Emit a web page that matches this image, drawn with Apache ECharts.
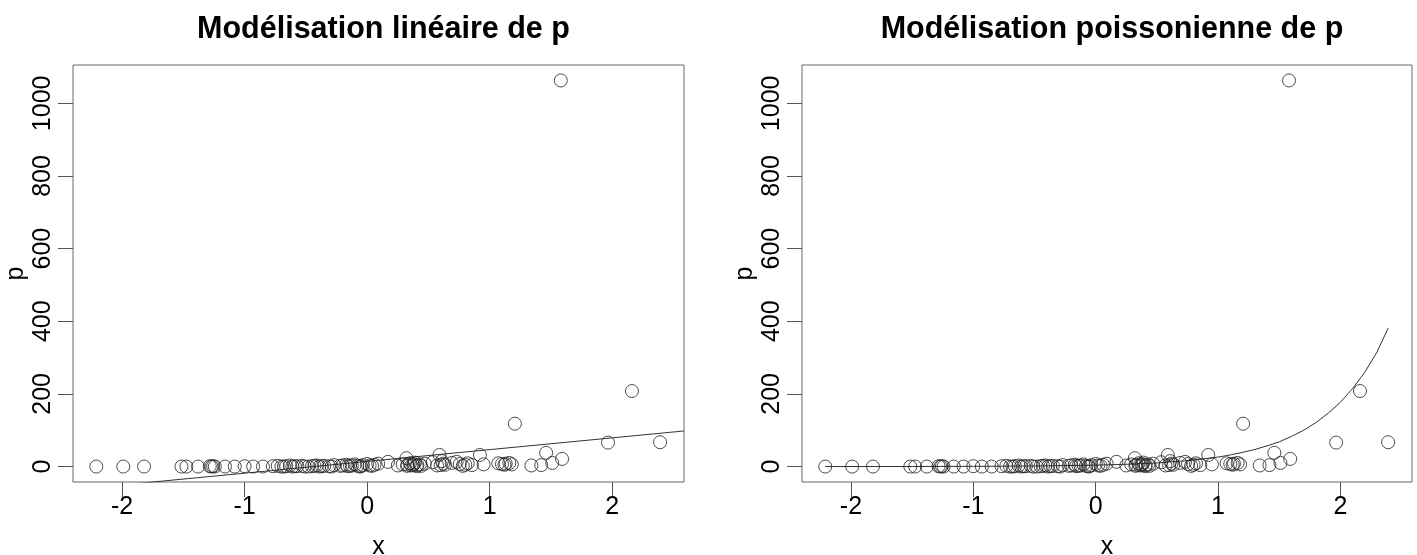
<!DOCTYPE html>
<html>
<head>
<meta charset="utf-8">
<script src="https://cdn.jsdelivr.net/npm/echarts@6/dist/echarts.min.js"></script>
<style>
  html, body { margin: 0; padding: 0; background: #fff; }
  #chart { width: 1417px; height: 555px; }
</style>
</head>
<body>
<div id="chart"></div>
<script>
// Observations: predictor x and counts p
const xValues = [
  -2.21, -1.99, -1.82, -1.515, -1.475, -1.38, -1.284, -1.27, -1.257, -1.243,
  -1.16, -1.08, -1.0, -0.93, -0.85, -0.77, -0.73, -0.70, -0.68, -0.66,
  -0.63, -0.61, -0.59, -0.57, -0.53, -0.51, -0.48, -0.45, -0.43, -0.41,
  -0.39, -0.37, -0.35, -0.31, -0.29, -0.27, -0.22, -0.20, -0.17, -0.16,
  -0.14, -0.125, -0.10, -0.08, -0.06, -0.05, -0.035, 0.0, 0.02, 0.04,
  0.06, 0.09, 0.17, 0.25, 0.29, 0.32, 0.325, 0.33, 0.35, 0.36,
  0.375, 0.38, 0.39, 0.405, 0.41, 0.43, 0.44, 0.47, 0.535, 0.57,
  0.59, 0.60, 0.61, 0.62, 0.635, 0.69, 0.73, 0.755, 0.78, 0.80,
  0.82, 0.855, 0.92, 0.95, 1.07, 1.10, 1.12, 1.13, 1.16, 1.18,
  1.205, 1.34, 1.42, 1.46, 1.51, 1.58, 1.59, 1.965, 2.16, 2.39
];
const pValues = [
  0, 0, 0, 0, 0, 0, 1, 0, 1, 0,
  0, 0, 1, 0, 0, 1, 2, 0, 0, 1,
  3, 0, 1, 1, 2, 0, 0, 1, 2, 3,
  0, 1, 2, 1, 0, 4, 2, 3, 5, 1,
  2, 3, 6, 2, 0, 1, 4, 7, 3, 2,
  5, 8, 13, 3, 6, 23, 2, 5, 9, 3,
  4, 7, 11, 1, 4, 6, 2, 8, 12, 3,
  32, 4, 15, 8, 5, 10, 13, 7, 2, 5,
  9, 4, 32, 6, 9, 7, 5, 8, 10, 6,
  118, 3, 4, 38, 10, 1063, 21, 66, 208, 67
];

// Linear model: straight line across the plotting region
const linX = [-2.40, 2.585];
const linP = [-63.6, 98];

// Poisson model: fitted curve over the range of x
const poisX = [-2.21, -1.5, -1.0, -0.5, 0.0, 0.25, 0.5, 0.75, 1.0, 1.1, 1.2, 1.3, 1.4,
               1.5, 1.6, 1.7, 1.8, 1.9, 2.0, 2.1, 2.2, 2.3, 2.39];
const poisP = [0.06, 0.2, 0.57, 1.5, 3.9, 6.2, 10, 16.3, 26, 32, 39, 47, 57,
               68, 83, 100, 121, 147, 177, 215, 260, 316, 381];

// Axis ticks
const xTicks = [-2, -1, 0, 1, 2];
const yTicks = [0, 200, 400, 600, 800, 1000];

const titles = ['Modélisation linéaire de p', 'Modélisation poissonienne de p'];

const FONT = '"Liberation Sans", Arial, sans-serif';
const LABEL_SIZE = 25;
const zip = (a, b) => a.map((v, i) => [v, b[i]]);
const points = zip(xValues, pValues);

const grids = [
  { left: 73, top: 65, width: 611, height: 417 },
  { left: 802, top: 65, width: 610, height: 417 }
];

function xAxisFor(i) {
  return {
    type: 'value', gridIndex: i, min: -2.40, max: 2.585,
    name: 'x', nameLocation: 'middle', nameGap: 53,
    nameTextStyle: { fontFamily: FONT, fontSize: LABEL_SIZE, color: '#000' },
    splitLine: { show: false },
    axisLine: { show: false, onZero: false },
    axisTick: { show: true, length: 15, customValues: xTicks, lineStyle: { color: '#555' } },
    axisLabel: { customValues: xTicks, fontFamily: FONT, fontSize: LABEL_SIZE, color: '#000', margin: 13,
                 formatter: v => String(v) }
  };
}
function yAxisFor(i) {
  return {
    type: 'value', gridIndex: i, min: -42.5, max: 1105.5,
    name: 'p', nameLocation: 'middle', nameGap: 44, nameRotate: 90,
    nameTextStyle: { fontFamily: FONT, fontSize: LABEL_SIZE, color: '#000' },
    splitLine: { show: false },
    axisLine: { show: false, onZero: false },
    axisTick: { show: true, length: 15, customValues: yTicks, lineStyle: { color: '#555' } },
    axisLabel: { customValues: yTicks, rotate: 90, fontFamily: FONT, fontSize: LABEL_SIZE, color: '#000', margin: 17,
                 formatter: v => String(v) }
  };
}

const scatterStyle = {
  type: 'scatter', symbol: 'circle', symbolSize: 13,
  itemStyle: { color: 'rgba(0,0,0,0)', borderColor: '#222', borderWidth: 1 },
  emphasis: { disabled: true }, silent: true, z: 3
};

const option = {
  animation: false,
  backgroundColor: '#fff',
  title: titles.map((t, i) => ({
    text: t,
    left: grids[i].left + grids[i].width / 2,
    textAlign: 'center',
    top: 9,
    textStyle: { fontFamily: FONT, fontSize: 30.5, fontWeight: 'bold', color: '#000' }
  })),
  grid: grids.map(g => Object.assign({
    show: true, borderColor: '#666', borderWidth: 1, backgroundColor: 'transparent',
    containLabel: false, outerBoundsMode: 'none'
  }, g)),
  xAxis: [xAxisFor(0), xAxisFor(1)],
  yAxis: [yAxisFor(0), yAxisFor(1)],
  series: [
    Object.assign({ xAxisIndex: 0, yAxisIndex: 0, data: points }, scatterStyle),
    {
      type: 'line', xAxisIndex: 0, yAxisIndex: 0, data: zip(linX, linP),
      showSymbol: false, clip: true, silent: true,
      lineStyle: { color: '#333', width: 1 }
    },
    Object.assign({ xAxisIndex: 1, yAxisIndex: 1, data: points }, scatterStyle),
    {
      type: 'line', xAxisIndex: 1, yAxisIndex: 1, data: zip(poisX, poisP),
      showSymbol: false, smooth: false, clip: true, silent: true,
      lineStyle: { color: '#333', width: 1 }
    }
  ]
};

const chart = echarts.init(document.getElementById('chart'), null, { renderer: 'canvas' });
chart.setOption(option);
</script>
</body>
</html>
